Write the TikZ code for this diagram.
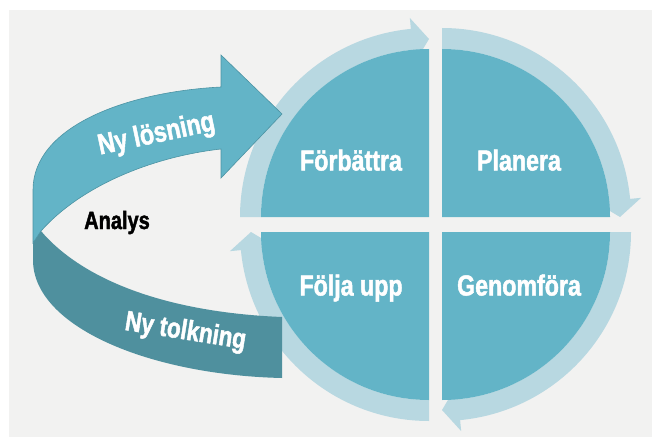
\documentclass[tikz,border=0pt]{standalone}
\usepackage{fontspec}
\newfontfamily\impact[FakeStretch=0.8, FakeBold=1.6]{Liberation Sans Bold}
\usepackage{tikz}

\definecolor{quadblue}{HTML}{63B4C7}
\definecolor{ringblue}{HTML}{B8D8E1}
\definecolor{bandblue}{HTML}{4F909E}
\definecolor{edgeblue}{HTML}{4C93A3}
\definecolor{bggray}{HTML}{F2F2F1}

\begin{document}
\begin{tikzpicture}[x=1pt, y=1pt, node distance=168pt,
		main text/.style={font=\impact\fontsize{29}{29}\selectfont, text=white, inner sep=0pt, text height=21pt, text depth=0pt}]
		
		\fill[white] (0,0) rectangle (652,437);
		\useasboundingbox (0,0) rectangle (652,437);
		\fill[bggray] (9,0) rectangle (652,427);
		
		\foreach \cx/\cy/\s in {429/220/180, 442/220/90, 442/205/0, 429/205/-90}{
			\begin{scope}[shift={(\cx,\cy)}]
				\fill[ringblue] (\s:189) arc[start angle=\s, end angle=\s-84.5, radius=189]
				-- ({\s-84.5}:200) -- ({\s-90}:178) -- ({\s-84.5}:154) -- ({\s-84.5}:168)
				arc[start angle=\s-84.5, end angle=\s, radius=168] -- cycle;
				\fill[quadblue] (0,0) -- ({\s-90}:168) arc[start angle=\s-90, delta angle=90, radius=168] -- cycle;
			\end{scope}
		}
		
		\fill[bandblue] (41,206) .. controls (80,160) and (160,125) .. (282,120) -- (282,59)
		.. controls (150,62) and (33,110) .. (33,177) -- (33,194) -- cycle;
		\filldraw[fill=quadblue, draw=edgeblue, line width=0.6pt] (33,194) -- (33,247)
		.. controls (33,310) and (125,345) .. (221,350) -- (221,382) -- (282,323) -- (221,259) -- (221,288)
		.. controls (150,280) and (80,250) .. (41,206) -- cycle;
		
		\node[main text] (1) at (351,277) {Förbättra};
		\node[main text] (2) [right of=1] {Planera};
		\node[main text, node distance=125pt] (3) [below of=1] {Följa upp};
		\node[main text, node distance=125pt] (4) [below of=2] {Genomföra};
		\node[main text, text=black, font=\impact\fontsize{25}{25}\selectfont, text height=18pt] (5) at (117,217) {Analys};
		\node[main text, rotate=12] (6) at (156,305) {Ny lösning};
		\node[main text, rotate=-9, font=\impact\fontsize{28}{28}\selectfont] (7) at (186,108) {Ny tolkning};
\end{tikzpicture}
\end{document}
